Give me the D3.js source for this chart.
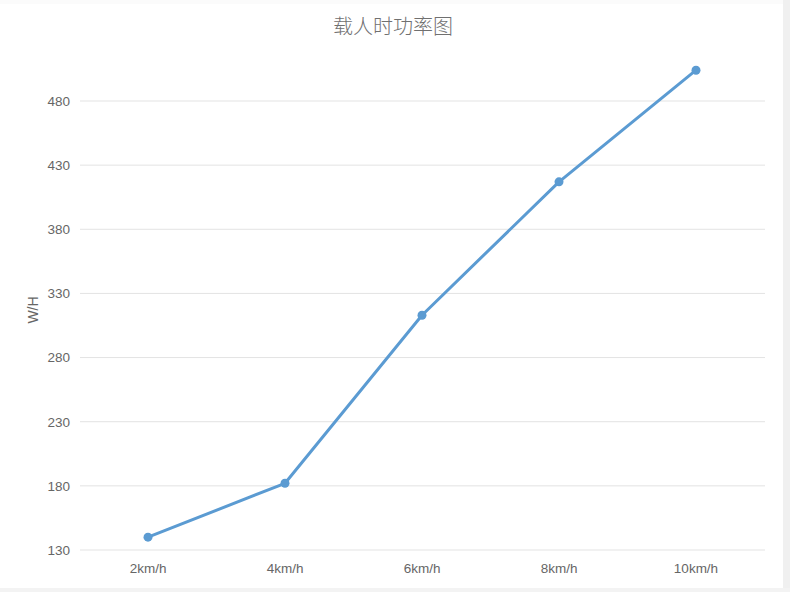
<!DOCTYPE html>
<html><head><meta charset="utf-8">
<script src="https://cdn.jsdelivr.net/npm/d3@7/dist/d3.min.js"></script>
<style>
html,body{margin:0;padding:0;background:#fff;}
svg{display:block;}
</style></head>
<body>
<svg id="chart" width="790" height="592"></svg>
<script>
const categories = ["2km/h","4km/h","6km/h","8km/h","10km/h"];
const values = [140, 182, 313, 417, 504];
const yTicks = [130, 180, 230, 280, 330, 380, 430, 480];
const title = "载人时功率图";
const yLabel = "W/H";

const svg = d3.select("#chart");
// page frame
svg.append("rect").attr("x",0).attr("y",0).attr("width",790).attr("height",592).attr("fill","#fbfbfb");
svg.append("rect").attr("x",0).attr("y",4).attr("width",783).attr("height",584).attr("fill","#fff");
svg.append("rect").attr("x",783).attr("y",0).attr("width",7).attr("height",592).attr("fill","#f0f0f0");
svg.append("rect").attr("x",0).attr("y",588).attr("width",790).attr("height",4).attr("fill","#f3f3f3");

const x = d3.scaleBand().domain(categories).range([79.5, 764.5]);
const y = d3.scaleLinear().domain([130, 480]).range([550, 101]);

// grid
const grid = svg.append("g");
grid.selectAll("line").data(yTicks).join("line")
  .attr("x1", 80).attr("x2", 765)
  .attr("y1", d => y(d)).attr("y2", d => y(d))
  .attr("stroke", "#e3e3e3").attr("stroke-width", 1);

// y axis labels
const yAxis = svg.append("g").attr("transform","translate(80,0)")
  .call(d3.axisLeft(y).tickValues(yTicks).tickSize(0).tickPadding(10));
yAxis.select(".domain").remove();
yAxis.selectAll("text").attr("font-family","Liberation Sans, Arial, sans-serif").attr("font-size",13.5).attr("fill","#666");

// x axis labels
const xAxis = svg.append("g").attr("transform","translate(0,550)")
  .call(d3.axisBottom(x).tickSize(0).tickPadding(13));
xAxis.select(".domain").remove();
xAxis.selectAll("text").attr("font-family","Liberation Sans, Arial, sans-serif").attr("font-size",13.5).attr("fill","#666");

// line
const cx = d => x(d) + x.bandwidth()/2;
const line = d3.line().x((d,i) => cx(categories[i])).y(d => y(d));
svg.append("path").datum(values).attr("d", line)
  .attr("fill","none").attr("stroke","#5b9bd2").attr("stroke-width",3).attr("stroke-linejoin","round");
svg.append("g").selectAll("circle").data(values).join("circle")
  .attr("cx",(d,i)=>cx(categories[i])).attr("cy",d=>y(d)).attr("r",4.5).attr("fill","#5b9bd2");

// title
svg.append("text").attr("x",393).attr("y",34).attr("text-anchor","middle")
  .attr("font-family","Noto Sans CJK SC, sans-serif").attr("font-size",20).attr("font-weight",300).attr("fill","#707070").text(title);

// y label
svg.append("text").attr("transform","translate(38,310) rotate(-90)").attr("text-anchor","middle")
  .attr("font-family","Liberation Sans, Arial, sans-serif").attr("font-size",14).attr("fill","#666").text(yLabel);
</script>
</body></html>
